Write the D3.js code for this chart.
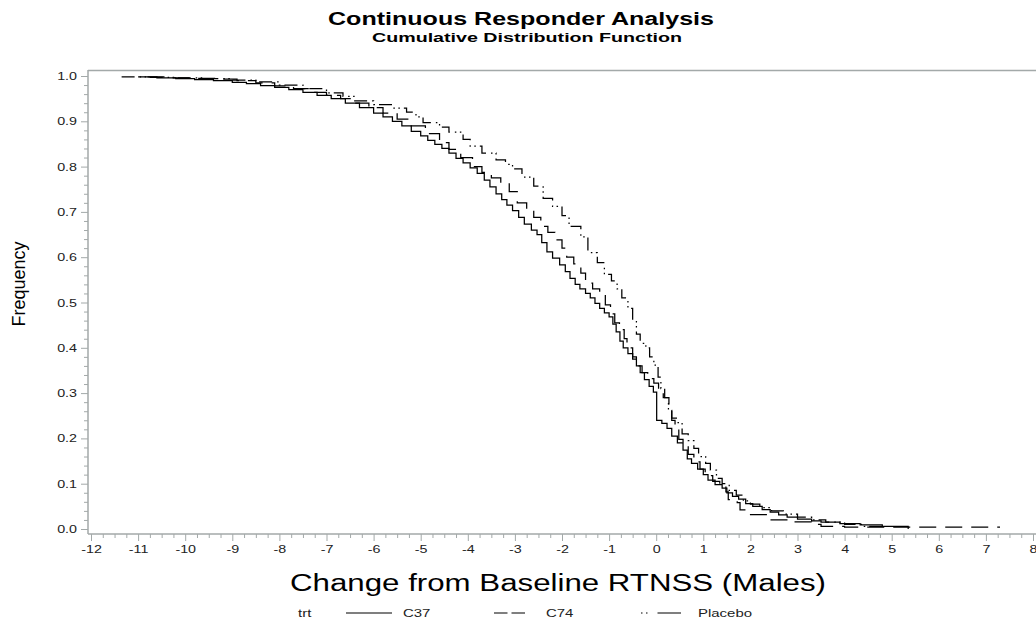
<!DOCTYPE html>
<html>
<head>
<meta charset="utf-8">
<script src="https://cdn.jsdelivr.net/npm/d3@7"></script>
<style>
  html, body { margin: 0; padding: 0; background: #fff; }
  svg { display: block; font-family: "Liberation Sans", Arial, sans-serif; }
</style>
</head>
<body>
<svg id="chart" width="1036" height="628"></svg>
<script>
// ---------------- DATA ----------------
const titleText = "Continuous Responder Analysis";
const subtitleText = "Cumulative Distribution Function";
const xLabelText = "Change from Baseline RTNSS (Males)";
const yLabelText = "Frequency";
const legendTitle = "trt";
const seriesNames = ["C37", "C74", "Placebo"];

const xTickValues = [-12,-11,-10,-9,-8,-7,-6,-5,-4,-3,-2,-1,0,1,2,3,4,5,6,7,8];
const yTickValues = [0.0,0.1,0.2,0.3,0.4,0.5,0.6,0.7,0.8,0.9,1.0];

// C37 (solid)
const c37X = [-11.0,-10.6,-10.2,-9.8,-9.4,-9.0,-8.7,-8.4,-8.1,-7.8,-7.5,-7.2,-6.9,-6.6,-6.3,-6.0,-5.8,-5.6,-5.4,-5.2,-5.0,-4.85,-4.7,-4.55,-4.4,-4.25,-4.1,-3.95,-3.8,-3.65,-3.53,-3.4,-3.28,-3.17,-3.05,-2.92,-2.8,-2.65,-2.53,-2.43,-2.32,-2.2,-2.05,-1.93,-1.83,-1.72,-1.62,-1.5,-1.4,-1.3,-1.2,-1.1,-1.0,-0.92,-0.85,-0.77,-0.7,-0.6,-0.5,-0.42,-0.34,-0.25,-0.15,-0.06,0.01,0.12,0.23,0.33,0.45,0.57,0.66,0.75,0.88,1.0,1.1,1.25,1.4,1.5,1.62,1.75,1.9,2.05,2.25,2.42,2.6,2.78,3.0,3.3,3.5,3.9,4.33,4.8,5.35];
const c37Y = [0.998,0.996,0.994,0.992,0.99,0.986,0.983,0.979,0.975,0.97,0.964,0.957,0.95,0.94,0.93,0.918,0.91,0.9,0.89,0.878,0.868,0.858,0.849,0.84,0.83,0.818,0.808,0.797,0.785,0.77,0.755,0.74,0.727,0.715,0.703,0.688,0.673,0.66,0.65,0.632,0.612,0.598,0.583,0.568,0.553,0.54,0.53,0.52,0.51,0.498,0.487,0.477,0.468,0.452,0.435,0.415,0.4,0.387,0.375,0.36,0.345,0.33,0.315,0.302,0.24,0.233,0.222,0.205,0.19,0.174,0.155,0.145,0.132,0.12,0.108,0.098,0.09,0.08,0.072,0.066,0.056,0.05,0.043,0.037,0.031,0.026,0.022,0.018,0.015,0.012,0.009,0.006,0.0];

// C74 (dashed)
const c74X = [-10.8,-10.3,-9.8,-9.3,-8.9,-8.5,-8.1,-7.7,-7.3,-7.0,-6.7,-6.4,-6.1,-5.8,-5.5,-5.2,-4.9,-4.6,-4.4,-4.15,-3.9,-3.7,-3.5,-3.3,-3.12,-2.95,-2.75,-2.6,-2.45,-2.3,-2.15,-2.0,-1.9,-1.75,-1.6,-1.5,-1.35,-1.2,-1.08,-0.97,-0.88,-0.78,-0.68,-0.62,-0.5,-0.42,-0.3,-0.18,-0.05,0.05,0.15,0.27,0.33,0.4,0.48,0.57,0.68,0.8,0.93,1.04,1.2,1.35,1.48,1.53,1.72,1.78,1.95,2.4,2.95,3.3,3.5,4.0,7.3];
const c74Y = [0.998,0.996,0.995,0.993,0.99,0.985,0.978,0.972,0.964,0.957,0.95,0.94,0.93,0.918,0.905,0.89,0.873,0.853,0.838,0.82,0.8,0.787,0.775,0.762,0.745,0.72,0.705,0.688,0.668,0.655,0.638,0.62,0.6,0.585,0.565,0.543,0.53,0.515,0.495,0.475,0.455,0.44,0.42,0.4,0.38,0.36,0.345,0.332,0.322,0.305,0.29,0.262,0.24,0.218,0.198,0.185,0.165,0.148,0.132,0.118,0.105,0.095,0.082,0.065,0.058,0.042,0.032,0.02,0.016,0.01,0.006,0.004,0.004];

// Placebo (dotted / dash)
const placeboX = [-11.35,-10.8,-10.2,-9.6,-9.0,-8.5,-8.0,-7.5,-7.0,-6.65,-6.4,-6.0,-5.6,-5.3,-5.1,-4.95,-4.6,-4.4,-4.1,-3.95,-3.7,-3.4,-3.2,-3.05,-2.85,-2.6,-2.4,-2.2,-2.0,-1.85,-1.6,-1.45,-1.25,-1.1,-0.95,-0.83,-0.73,-0.6,-0.5,-0.42,-0.34,-0.22,-0.14,-0.05,0.04,0.1,0.18,0.26,0.33,0.45,0.55,0.68,0.8,0.9,1.05,1.15,1.28,1.4,1.55,1.7,1.85,2.0,2.2,2.45,2.7,3.0,3.3,3.6,4.0,4.4,4.85];
const placeboY = [0.998,0.997,0.996,0.994,0.991,0.987,0.98,0.972,0.963,0.955,0.945,0.937,0.929,0.92,0.91,0.897,0.887,0.876,0.86,0.845,0.83,0.815,0.805,0.795,0.777,0.757,0.73,0.712,0.692,0.668,0.645,0.61,0.588,0.562,0.548,0.53,0.51,0.487,0.46,0.43,0.41,0.4,0.38,0.362,0.335,0.31,0.29,0.262,0.245,0.235,0.21,0.195,0.178,0.16,0.145,0.13,0.112,0.1,0.085,0.075,0.062,0.055,0.047,0.04,0.033,0.026,0.02,0.015,0.01,0.006,0.002];

// ---------------- DRAWING ----------------
const svg = d3.select("#chart");
const axisColor = "#a3a9a9";
const textColor = "#222";
const stretch = 1.3; // reference text is horizontally widened

function widen(sel) {
  sel.each(function () {
    const w = this.getComputedTextLength();
    d3.select(this).attr("textLength", w * stretch).attr("lengthAdjust", "spacingAndGlyphs");
  });
}

const x = d3.scaleLinear().domain([-12, 8]).range([91, 1033]);
const y = d3.scaleLinear().domain([0, 1]).range([529, 76]);
const frame = { left: 88, top: 70, bottom: 534, right: 1036 };

// frame top line
svg.append("line")
  .attr("x1", frame.left).attr("x2", frame.right)
  .attr("y1", frame.top + 0.5).attr("y2", frame.top + 0.5)
  .attr("stroke", axisColor).attr("stroke-width", 1.5);

// y axis
const yMinor = d3.range(0, 1.0001, 0.02).map(v => +v.toFixed(2)).filter(v => !yTickValues.some(t => Math.abs(t - v) < 1e-9));
const gy = svg.append("g").attr("transform", `translate(${frame.left},0)`);
gy.append("line").attr("x1", 0).attr("x2", 0).attr("y1", frame.top).attr("y2", frame.bottom)
  .attr("stroke", axisColor).attr("stroke-width", 1.5);
gy.append("g").call(d3.axisLeft(y).tickValues(yMinor).tickSize(4).tickFormat(""))
  .call(g => g.select(".domain").remove())
  .call(g => g.selectAll("line").attr("stroke", axisColor));
gy.append("g").call(d3.axisLeft(y).tickValues(yTickValues).tickSize(7).tickPadding(4).tickFormat(d3.format(".1f")))
  .call(g => g.select(".domain").remove())
  .call(g => g.selectAll("line").attr("stroke", axisColor))
  .call(g => g.selectAll("text").attr("fill", textColor).style("font-size", "11px").style("font-family", "Liberation Sans, Arial, sans-serif"))
  .call(g => widen(g.selectAll("text")));

// x axis
const xMinor = d3.range(-12, 8.0001, 0.25).filter(v => Math.abs(v - Math.round(v)) > 1e-9);
const gx = svg.append("g").attr("transform", `translate(0,${frame.bottom})`);
gx.append("line").attr("x1", frame.left).attr("x2", frame.right).attr("y1", 0).attr("y2", 0)
  .attr("stroke", axisColor).attr("stroke-width", 1.5);
gx.append("g").call(d3.axisBottom(x).tickValues(xMinor).tickSize(4).tickFormat(""))
  .call(g => g.select(".domain").remove())
  .call(g => g.selectAll("line").attr("stroke", axisColor));
gx.append("g").call(d3.axisBottom(x).tickValues(xTickValues).tickSize(7).tickPadding(4).tickFormat(d => String(d)))
  .call(g => g.select(".domain").remove())
  .call(g => g.selectAll("line").attr("stroke", axisColor))
  .call(g => g.selectAll("text").attr("fill", textColor).style("font-size", "11px").style("font-family", "Liberation Sans, Arial, sans-serif"))
  .call(g => widen(g.selectAll("text")));

// series
const series = [
  { name: seriesNames[0], xs: c37X, ys: c37Y, dash: null },
  { name: seriesNames[1], xs: c74X, ys: c74Y, dash: "17,9" },
  { name: seriesNames[2], xs: placeboX, ys: placeboY, dash: "13,5,1.5,3.5,1.5,4" }
];
const line = d3.line().x(d => x(d[0])).y(d => y(d[1])).curve(d3.curveStepAfter);
const gPlot = svg.append("g");
series.forEach(s => {
  const pts = s.xs.map((v, i) => [v, s.ys[i]]);
  gPlot.append("path")
    .datum(pts)
    .attr("d", line)
    .attr("fill", "none")
    .attr("stroke", "#000")
    .attr("stroke-width", 1.25)
    .attr("stroke-dasharray", s.dash);
});

// titles
svg.append("text").attr("x", 521).attr("y", 25).attr("text-anchor", "middle")
  .attr("font-weight", "bold").attr("font-size", 18).attr("fill", "#000")
  .attr("textLength", 386).attr("lengthAdjust", "spacingAndGlyphs")
  .text(titleText);
svg.append("text").attr("x", 527).attr("y", 42).attr("text-anchor", "middle")
  .attr("font-weight", "bold").attr("font-size", 13).attr("fill", "#000")
  .attr("textLength", 310).attr("lengthAdjust", "spacingAndGlyphs")
  .text(subtitleText);

// axis labels
svg.append("text").attr("x", 558).attr("y", 591).attr("text-anchor", "middle")
  .attr("font-size", 23).attr("fill", "#000")
  .attr("textLength", 536).attr("lengthAdjust", "spacingAndGlyphs")
  .text(xLabelText);
svg.append("text").attr("transform", "translate(25,284) rotate(-90)").attr("text-anchor", "middle")
  .attr("font-size", 18).attr("fill", "#000")
  .text(yLabelText);

// legend
const ly = 613;
const lg = svg.append("g").style("font-size", "11.5px").attr("fill", textColor);
lg.append("text").attr("x", 298).attr("y", ly + 4).text(legendTitle);
const legendItems = [
  { name: seriesNames[0], x1: 346, x2: 392, dash: null, tx: 403 },
  { name: seriesNames[1], x1: 494, x2: 526, dash: "13.5,4", tx: 546 },
  { name: seriesNames[2], x1: 641, x2: 681, dash: "1.5,3.5,1.5,10,23,0", tx: 698 }
];
legendItems.forEach(it => {
  lg.append("line").attr("x1", it.x1).attr("x2", it.x2).attr("y1", ly).attr("y2", ly)
    .attr("stroke", "#000").attr("stroke-width", 1.2).attr("stroke-dasharray", it.dash);
  lg.append("text").attr("x", it.tx).attr("y", ly + 4).text(it.name);
});
widen(lg.selectAll("text"));
</script>
</body>
</html>
